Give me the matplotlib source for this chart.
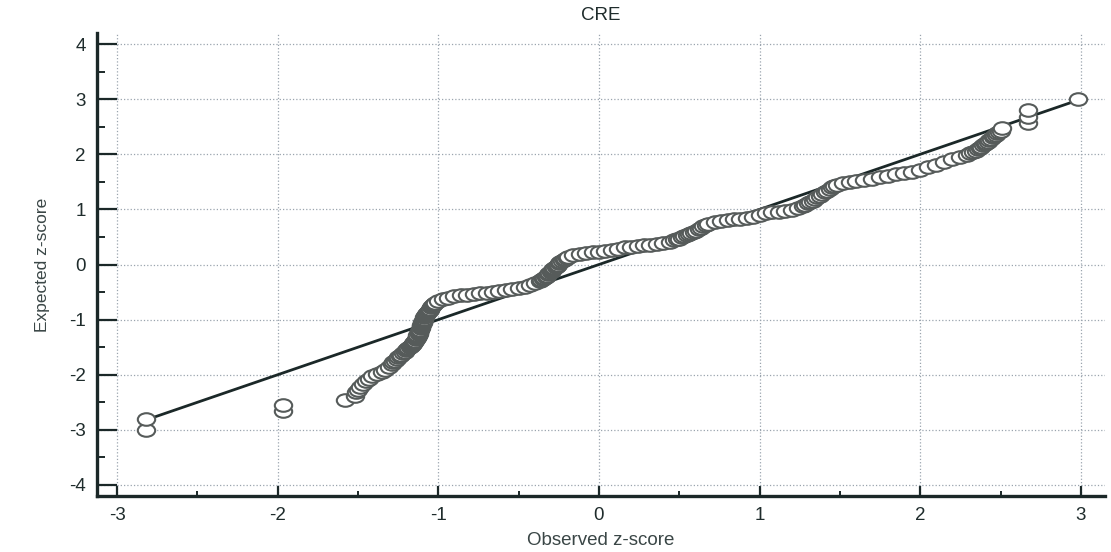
import matplotlib
matplotlib.use("Agg")
import matplotlib.pyplot as plt
from matplotlib.path import Path
from matplotlib.transforms import Affine2D
from matplotlib.ticker import MultipleLocator

title = "CRE"
x_label = "Observed z-score"
y_label = "Expected z-score"

observed = [
    -2.82, -2.82, -1.97, -1.97, -1.58, -1.52, -1.51, -1.50, -1.49, -1.47,
    -1.45, -1.43, -1.41, -1.38, -1.35, -1.33, -1.31, -1.29, -1.28, -1.26,
    -1.25, -1.23, -1.22, -1.20, -1.19, -1.17, -1.16, -1.15, -1.14, -1.13,
    -1.13, -1.12, -1.12, -1.11, -1.11, -1.10, -1.10, -1.09, -1.09, -1.08,
    -1.07, -1.06, -1.05, -1.04, -1.03, -1.02, -1.00, -0.97, -0.94, -0.90,
    -0.86, -0.82, -0.78, -0.74, -0.70, -0.66, -0.62, -0.58, -0.54, -0.50,
    -0.46, -0.43, -0.40, -0.37, -0.35, -0.33, -0.32, -0.30, -0.29, -0.28,
    -0.26, -0.25, -0.23, -0.21, -0.19, -0.16, -0.12, -0.08, -0.04, 0.00,
    0.04, 0.08, 0.12, 0.16, 0.20, 0.24, 0.28, 0.32, 0.36, 0.40,
    0.44, 0.47, 0.50, 0.53, 0.56, 0.59, 0.62, 0.65, 0.68, 0.72,
    0.76, 0.80, 0.84, 0.88, 0.92, 0.96, 1.00, 1.04, 1.08, 1.12,
    1.16, 1.20, 1.24, 1.27, 1.30, 1.33, 1.36, 1.39, 1.42, 1.45,
    1.48, 1.52, 1.56, 1.60, 1.65, 1.70, 1.75, 1.80, 1.85, 1.90,
    1.95, 2.00, 2.05, 2.10, 2.15, 2.20, 2.25, 2.29, 2.33, 2.36,
    2.38, 2.40, 2.42, 2.44, 2.46, 2.48, 2.50, 2.51, 2.67, 2.67,
    2.67, 2.98,
    # denser clusters
    -1.195, -1.175, -1.165, -1.155, -1.145, -1.135, -1.128, -1.122, -1.118, -1.115,
    -1.108, -1.105, -1.098, -1.095, -1.088, -1.085, -1.075, -1.065, -1.055, -1.045,
    -1.035, -1.27, -1.24, -1.21,
    -0.36, -0.34, -0.325, -0.31, -0.295, -0.285, -0.27, -0.255, -0.24, -0.22, -0.20,
    0.485, 0.515, 0.545, 0.575, 0.605, 0.635, 0.665,
    1.285, 1.315, 1.345, 1.375, 1.405, 1.435, 1.465,
    2.31, 2.345, 2.37, 2.39, 2.41, 2.43, 2.45, 2.47, 2.49,
]
expected = [
    -3.00, -2.80, -2.65, -2.55, -2.46, -2.38, -2.32, -2.27, -2.22, -2.17,
    -2.12, -2.07, -2.03, -1.99, -1.95, -1.91, -1.86, -1.81, -1.77, -1.72,
    -1.68, -1.64, -1.60, -1.56, -1.52, -1.48, -1.44, -1.40, -1.36, -1.32,
    -1.28, -1.24, -1.20, -1.16, -1.12, -1.08, -1.04, -1.00, -0.96, -0.92,
    -0.88, -0.84, -0.80, -0.76, -0.72, -0.69, -0.66, -0.63, -0.61, -0.58,
    -0.56, -0.55, -0.54, -0.52, -0.51, -0.50, -0.48, -0.47, -0.45, -0.43,
    -0.40, -0.37, -0.34, -0.30, -0.26, -0.22, -0.18, -0.14, -0.10, -0.06,
    -0.02, 0.02, 0.06, 0.10, 0.14, 0.17, 0.19, 0.21, 0.22, 0.23,
    0.25, 0.27, 0.29, 0.31, 0.32, 0.34, 0.35, 0.36, 0.37, 0.39,
    0.41, 0.44, 0.47, 0.51, 0.55, 0.59, 0.64, 0.69, 0.73, 0.77,
    0.79, 0.81, 0.82, 0.83, 0.85, 0.87, 0.90, 0.93, 0.95, 0.96,
    0.97, 0.99, 1.02, 1.06, 1.11, 1.16, 1.22, 1.28, 1.34, 1.40,
    1.44, 1.47, 1.49, 1.51, 1.53, 1.56, 1.58, 1.61, 1.64, 1.66,
    1.68, 1.71, 1.76, 1.81, 1.86, 1.91, 1.95, 1.99, 2.04, 2.09,
    2.14, 2.18, 2.23, 2.28, 2.33, 2.38, 2.43, 2.47, 2.56, 2.67,
    2.80, 3.00,
    # denser clusters
    -1.54, -1.50, -1.46, -1.42, -1.38, -1.34, -1.30, -1.26, -1.22, -1.18,
    -1.14, -1.10, -1.06, -1.02, -0.98, -0.94, -0.90, -0.86, -0.82, -0.78,
    -0.74, -1.75, -1.66, -1.58,
    -0.28, -0.24, -0.20, -0.16, -0.12, -0.08, -0.04, 0.00, 0.04, 0.08, 0.12,
    0.455, 0.49, 0.53, 0.57, 0.615, 0.665, 0.71,
    1.085, 1.135, 1.19, 1.25, 1.31, 1.37, 1.42,
    2.015, 2.065, 2.115, 2.16, 2.205, 2.255, 2.305, 2.355, 2.405,
]

dark = "#1b2828"
text_c = "#1f2c2c"
plt.rcParams['font.family'] = ['Liberation Sans', 'DejaVu Sans']
plt.rcParams['axes.unicode_minus'] = False

fig = plt.figure(figsize=(11.11, 5.52), dpi=100)
ax = fig.add_axes([97 / 1111, 1 - 496 / 552, (1105 - 97) / 1111, (496 - 33) / 552])

ax.set_xlim(-3.125, 3.15)
ax.set_ylim(-4.2, 4.2)

# reference line y = x across the observed range
lo, hi = min(observed), max(observed)
ax.plot([lo, hi], [lo, hi], color=dark, lw=2.0, zorder=3, solid_capstyle='butt')

# draw points in rank order (expected ascending)
pts = sorted(zip(expected, observed))
xs = [p[1] for p in pts]
ys = [p[0] for p in pts]
ell = Path.unit_circle().transformed(Affine2D().scale(1.38, 1.0))
ax.plot(xs, ys, linestyle='none', marker=ell, markersize=12.5,
        markerfacecolor='white', markeredgecolor='#565b5a', markeredgewidth=1.5,
        zorder=4)

ax.xaxis.set_major_locator(MultipleLocator(1))
ax.xaxis.set_minor_locator(MultipleLocator(0.5))
ax.yaxis.set_major_locator(MultipleLocator(1))
ax.yaxis.set_minor_locator(MultipleLocator(0.5))

ax.grid(True, which='major', color='#9aa4ae', linestyle=':', linewidth=0.9)
ax.set_axisbelow(True)

for s in ['top', 'right']:
    ax.spines[s].set_visible(False)
for s in ['left', 'bottom']:
    ax.spines[s].set_linewidth(2.4)
    ax.spines[s].set_color(dark)

ax.tick_params(axis='x', which='major', direction='in', length=7.5, width=1.6,
               color=dark, pad=8, labelsize=13.5, labelcolor=text_c)
ax.tick_params(axis='x', which='minor', direction='in', length=3.8, width=1.4, color=dark)
ax.tick_params(axis='y', which='major', direction='in', length=14.4, width=1.6,
               color=dark, pad=8, labelsize=13.5, labelcolor=text_c)
ax.tick_params(axis='y', which='minor', direction='in', length=5.8, width=1.4, color=dark)

ax.set_title(title, fontsize=13.5, color=text_c, pad=9)
ax.set_xlabel(x_label, fontsize=13.5, color='#3a4646', labelpad=6)
ax.set_ylabel(y_label, fontsize=12.5, color='#3a4646', labelpad=14,
              family=['Liberation Sans Narrow', 'Liberation Sans', 'DejaVu Sans'])

fig.savefig("out.png", dpi=100, facecolor='white')
